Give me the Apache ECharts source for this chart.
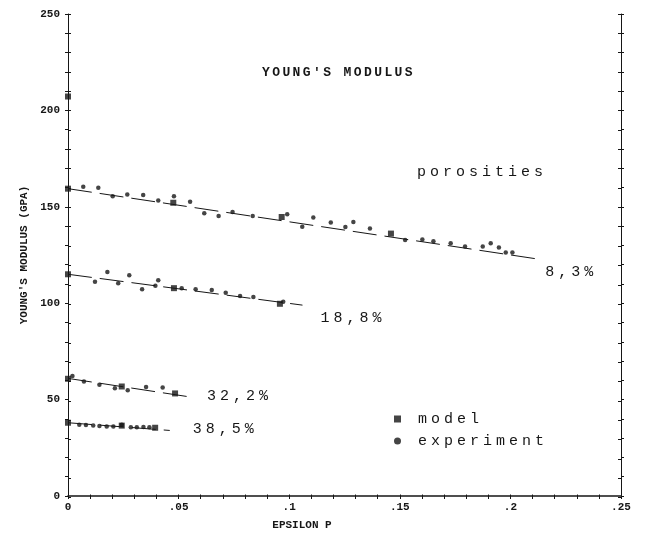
<!DOCTYPE html>
<html>
<head>
<meta charset="utf-8">
<script src="https://cdn.jsdelivr.net/npm/echarts@6/dist/echarts.min.js"></script>
<style>html,body{margin:0;padding:0;background:#fff}#c{width:656px;height:536px}</style>
</head>
<body>
<div id="c"></div>
<script>
// ---- data ----
const titleText = "YOUNG'S MODULUS";
const yName = "YOUNG'S MODULUS (GPA)";
const xName = "EPSILON P";
const noteText = "porosities";
const porosityLabels = ['8,3%', '18,8%', '32,2%', '38,5%'];
const xTickLabels = {0: '0', 0.05: '.05', 0.1: '.1', 0.15: '.15', 0.2: '.2', 0.25: '.25'};

const exp83X = [0.0069,0.0137,0.0202,0.0268,0.034,0.0408,0.0479,0.0552,0.0616,0.0681,0.0744,0.0835,0.0991,0.1059,0.1109,0.1188,0.1254,0.129,0.1365,0.1524,0.1602,0.1652,0.173,0.1795,0.1875,0.1911,0.1948,0.1979,0.2009];
const exp83Y = [160.4,159.9,155.5,156.4,156.1,153.3,155.5,152.6,146.6,145.2,147.3,145.2,146.1,139.7,144.4,141.8,139.5,142.1,138.8,132.8,133.1,132.1,131.1,129.4,129.4,131.1,128.9,126.3,126.3];
const model83X = [0, 0.0476, 0.0966, 0.146];
const model83Y = [159.4, 152.1, 144.7, 136.1];

const exp188X = [0.0122,0.0178,0.0227,0.0277,0.0335,0.0395,0.0408,0.0514,0.0577,0.065,0.0713,0.0778,0.0838,0.0973];
const exp188Y = [111.1,116.2,110.4,114.5,107.3,109.0,111.9,107.8,107.3,106.8,105.4,103.7,103.2,100.7];
const model188X = [0, 0.0479, 0.0958];
const model188Y = [115.0, 107.8, 99.7];

const exp322X = [0.002,0.0072,0.0142,0.0212,0.027,0.0353,0.0428];
const exp322Y = [62.2,59.4,57.7,55.9,54.9,56.6,56.3];
const model322X = [0, 0.0243, 0.0484];
const model322Y = [60.8, 56.8, 53.2];

const exp385X = [0.0051,0.0081,0.0114,0.0142,0.0175,0.0205,0.0243,0.0284,0.0311,0.0341,0.0368];
const exp385Y = [37.0,36.8,36.6,36.3,36.1,36.1,37.0,35.6,35.6,35.8,35.6];
const model385X = [0, 0.0243, 0.0394];
const model385Y = [38.0, 36.5, 35.4];

const model0X = [0];
const model0Y = [207.2];

const fitStartX = [0, 0, 0, 0];
const fitStartY = [159.4, 115.0, 61.0, 38.0];
const fitEndX = [0.213, 0.106, 0.0556, 0.046];
const fitEndY = [122.8, 99.0, 51.3, 34.0];

// ---- build ----
const INK = '#161616';
const MONO = "'Liberation Mono','DejaVu Sans Mono',monospace";
function zip(xs, ys) { return xs.map((x, i) => [x, ys[i]]); }
function spaced(str) { return str.split('').map(ch => '{c|' + ch + '}').join(''); }
const richBig = { c: { width: 13, fontSize: 15, fontWeight: 'normal', fontFamily: MONO, color: INK, align: 'left' }, p: { width: 14 } };

const chart = echarts.init(document.getElementById('c'), null, { renderer: 'canvas' });

const grid = { left: 68, right: 35, top: 14, bottom: 38.5, containLabel: false };
const labelOffsets = [[1, 13], [13, 13], [11, -1], [18, -1]];

const series = [];
const expSets = [[exp83X, exp83Y], [exp188X, exp188Y], [exp322X, exp322Y], [exp385X, exp385Y]];
const modelSets = [[model83X, model83Y], [model188X, model188Y], [model322X, model322Y], [model385X, model385Y], [model0X, model0Y]];

for (let i = 0; i < 4; i++) {
  series.push({
    type: 'line', name: 'fit ' + porosityLabels[i], xAxisIndex: 0, yAxisIndex: 0,
    data: [[fitStartX[i], fitStartY[i]], [fitEndX[i], fitEndY[i]]],
    symbol: 'none', silent: true,
    lineStyle: { color: INK, width: 1, type: [24, 8] },
    endLabel: {
      show: true, distance: 5, offset: labelOffsets[i],
      formatter: () => spaced(porosityLabels[i]),
      rich: richBig
    },
    z: 2
  });
}
expSets.forEach(s => series.push({
  type: 'scatter', name: 'experiment', xAxisIndex: 0, yAxisIndex: 0,
  data: zip(s[0], s[1]), symbol: 'circle', symbolSize: 4.5,
  itemStyle: { color: INK }, z: 3
}));
modelSets.forEach(s => series.push({
  type: 'scatter', name: 'model', xAxisIndex: 0, yAxisIndex: 0,
  data: zip(s[0], s[1]), symbol: 'rect', symbolSize: 6,
  itemStyle: { color: INK }, z: 4
}));

const tickLabelStyle = { color: INK, fontFamily: MONO, fontSize: 11, fontWeight: 'bold' };

const option = {
  backgroundColor: '#ffffff',
  animation: false,
  title: [
    { text: spaced(titleText), left: 257, top: 61,
      textStyle: { rich: { c: { width: 10.2, fontSize: 13, fontWeight: 'bold', fontFamily: MONO, color: INK } } } },
    { text: spaced(noteText), left: 412, top: 160, textStyle: { fontWeight: 'normal', rich: richBig } }
  ],
  legend: {
    orient: 'vertical', left: 389, top: 406, itemWidth: 7, itemHeight: 7, itemGap: 6,
    data: [{ name: 'model', icon: 'rect' }, { name: 'experiment', icon: 'circle', itemStyle: { color: INK } }],
    formatter: n => '{p| }' + spaced(n),
    textStyle: { rich: Object.assign({}, richBig, { p: { width: 12 } }), lineHeight: 16 },
    itemStyle: { color: INK },
    selectedMode: false
  },
  grid: [grid, Object.assign({}, grid)],
  xAxis: [
    { type: 'value', gridIndex: 0, min: 0, max: 0.25, interval: 0.05, position: 'bottom',
      axisLine: { show: true, lineStyle: { color: INK, width: 1.6 } },
      axisTick: { show: true, length: 3, inside: false, lineStyle: { color: INK } },
      minorTick: { show: true, splitNumber: 5, length: 3, lineStyle: { color: INK } },
      splitLine: { show: false },
      axisLabel: Object.assign({ margin: 6, formatter: v => xTickLabels[Math.round(v * 100) / 100] ?? '' }, tickLabelStyle),
      name: xName, nameLocation: 'middle', nameGap: 24,
      nameTextStyle: { color: INK, fontFamily: MONO, fontSize: 11, fontWeight: 'bold', padding: [0, 85, 0, 0] } },
    { type: 'value', gridIndex: 1, min: 0, max: 0.25, interval: 0.05, position: 'bottom',
      axisLine: { show: false },
      axisTick: { show: true, length: 3, inside: true, lineStyle: { color: INK } },
      minorTick: { show: true, splitNumber: 5, length: 3, lineStyle: { color: INK } },
      splitLine: { show: false }, axisLabel: { show: false } }
  ],
  yAxis: [
    { type: 'value', gridIndex: 0, min: 0, max: 250, interval: 50, position: 'left',
      axisLine: { show: true, lineStyle: { color: INK, width: 1 } },
      axisTick: { show: true, length: 3, inside: false, lineStyle: { color: INK } },
      minorTick: { show: true, splitNumber: 5, length: 3, lineStyle: { color: INK } },
      splitLine: { show: false },
      axisLabel: Object.assign({ margin: 8, padding: [0, 0, 4, 0] }, tickLabelStyle),
      name: yName, nameLocation: 'middle', nameGap: 38, nameRotate: 90,
      nameTextStyle: { color: INK, fontFamily: MONO, fontSize: 11, fontWeight: 'bold' } },
    { type: 'value', gridIndex: 0, min: 0, max: 250, interval: 50, position: 'right',
      axisLine: { show: true, lineStyle: { color: INK, width: 1 } },
      axisTick: { show: true, length: 3, inside: false, lineStyle: { color: INK } },
      minorTick: { show: true, splitNumber: 5, length: 3, lineStyle: { color: INK } },
      splitLine: { show: false }, axisLabel: { show: false } },
    { type: 'value', gridIndex: 1, min: 0, max: 250, interval: 50, position: 'left',
      axisLine: { show: false },
      axisTick: { show: true, length: 3, inside: true, lineStyle: { color: INK } },
      minorTick: { show: true, splitNumber: 5, length: 3, lineStyle: { color: INK } },
      splitLine: { show: false }, axisLabel: { show: false } },
    { type: 'value', gridIndex: 1, min: 0, max: 250, interval: 50, position: 'right',
      axisLine: { show: false },
      axisTick: { show: true, length: 3, inside: true, lineStyle: { color: INK } },
      minorTick: { show: true, splitNumber: 5, length: 3, lineStyle: { color: INK } },
      splitLine: { show: false }, axisLabel: { show: false } }
  ],
  series: series
};
chart.setOption(option);
</script>
</body>
</html>
